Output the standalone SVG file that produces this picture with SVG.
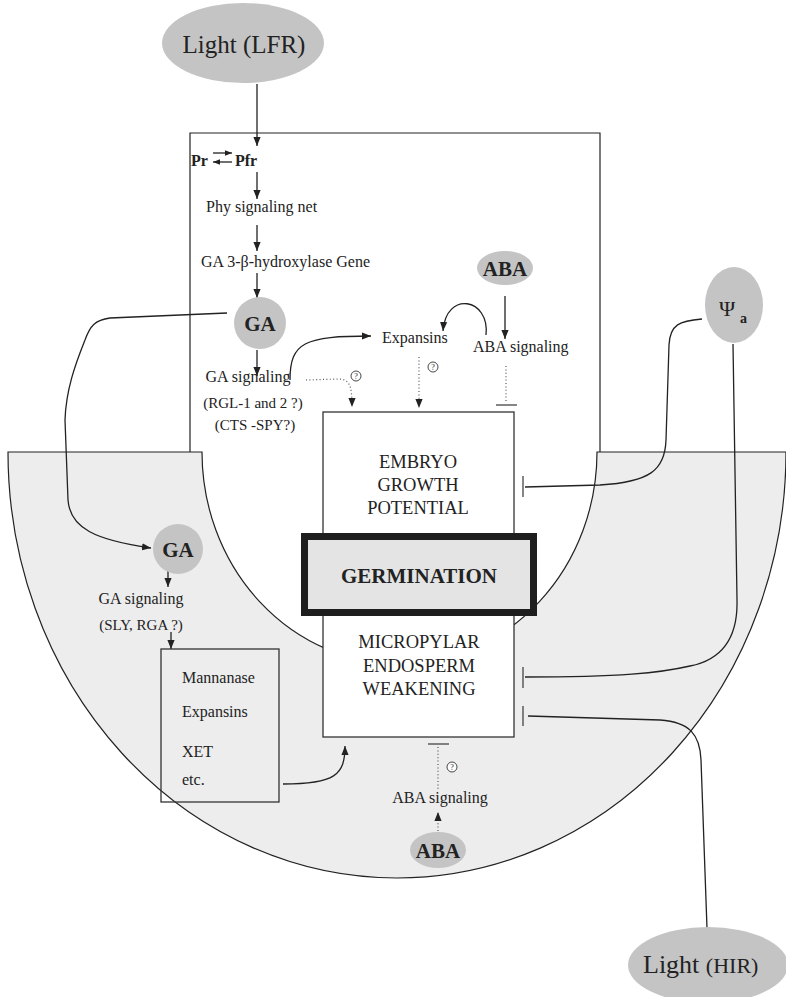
<svg xmlns="http://www.w3.org/2000/svg" width="786" height="997" viewBox="0 0 786 997">
<defs>
<style>
.t{font-family:"Liberation Serif","Times New Roman",serif;font-size:16px;fill:#222}
.b{font-weight:bold}
.m{text-anchor:middle}
.ln{fill:none;stroke:#222;stroke-width:1.3}
.dt{fill:none;stroke:#555;stroke-width:1.2;stroke-dasharray:1 2.4}
.bar{fill:none;stroke:#444;stroke-width:1.3}
.nd{fill:#c4c4c4}
.q{fill:#fff;stroke:#333;stroke-width:0.9}
.qt{font-family:"Liberation Serif",serif;font-size:8px;fill:#222;text-anchor:middle}
</style>
<marker id="ah" viewBox="0 0 10 10" refX="10" refY="5" markerWidth="9" markerHeight="9" orient="auto" markerUnits="userSpaceOnUse"><path d="M0,1 L10,5 L0,9 z" fill="#222"/></marker>
<marker id="ahs" viewBox="0 0 10 10" refX="10" refY="5" markerWidth="8" markerHeight="7" orient="auto" markerUnits="userSpaceOnUse"><path d="M0,1 L10,5 L0,9 z" fill="#222"/></marker>
</defs>
<rect width="786" height="997" fill="#fff"/>

<g id="endosperm">
<path d="M8 452 L202 452 A197.5 212 0 0 0 597 452 L786 452 A389 426 0 0 1 8 452 Z" fill="#ededed" stroke="#222" stroke-width="1.2"/>
</g>
<g id="embryo">
<path d="M190 452 L190 133 L600 133 L600 452" fill="none" stroke="#222" stroke-width="1.2"/>
</g>

<g id="connectors">
<line class="ln" x1="257" y1="84" x2="257" y2="146" marker-end="url(#ah)"/>
<line class="ln" x1="213" y1="153" x2="232" y2="153" marker-end="url(#ahs)"/>
<line class="ln" x1="232" y1="162" x2="213" y2="162" marker-end="url(#ahs)"/>
<line class="ln" x1="257" y1="172" x2="257" y2="199" marker-end="url(#ah)"/>
<line class="ln" x1="257" y1="225" x2="257" y2="251" marker-end="url(#ah)"/>
<line class="ln" x1="257" y1="273" x2="257" y2="298" marker-end="url(#ah)"/>
<line class="ln" x1="257" y1="350" x2="257" y2="376" marker-end="url(#ah)"/>
<path class="ln" d="M227 313 L110 318 C95 320 90 326 85 340 C75 365 66 390 65 420 L68 500 C70 528 95 540 151 548" marker-end="url(#ah)"/>
<line class="ln" x1="168" y1="564" x2="168" y2="587" marker-end="url(#ah)"/>
<line class="ln" x1="171" y1="632" x2="171" y2="649" marker-end="url(#ah)"/>
<path class="ln" d="M283 784 C335 784 345 775 345 746" marker-end="url(#ah)"/>
<path class="ln" d="M290 380 C290 342 305 336 371 336" marker-end="url(#ah)"/>
<line class="ln" x1="505" y1="296" x2="505" y2="339" marker-end="url(#ah)"/>
<path class="ln" d="M486 335 C490 298 446 290 443 331" marker-end="url(#ah)"/>
<path class="dt" d="M306 380 L338 379 C350 379 352 386 352 407" marker-end="url(#ah)"/>
<line class="dt" x1="419" y1="357" x2="419" y2="408" marker-end="url(#ah)"/>
<line class="dt" x1="506" y1="366" x2="506" y2="403"/>
<line class="bar" x1="496" y1="405" x2="517" y2="405"/>
<path class="ln" d="M702 319 C680 321 670 324 669 345 L666 440 C665 470 650 482 600 485 L525 487"/>
<line class="bar" x1="523" y1="476" x2="523" y2="497"/>
<path class="ln" d="M733 344 L737 600 C738 640 720 660 690 666 C660 673 620 677 525 677"/>
<line class="bar" x1="523" y1="667" x2="523" y2="688"/>
<path class="ln" d="M707 928 L701 760 C700 735 690 722 660 720 L528 716"/>
<line class="bar" x1="523" y1="706" x2="523" y2="726"/>
<line class="bar" x1="428" y1="744" x2="449" y2="744"/>
<line class="dt" x1="438" y1="747" x2="438" y2="790"/>
<line class="dt" x1="438" y1="831" x2="438" y2="812" marker-end="url(#ah)"/>
<circle class="q" cx="356" cy="376" r="5"/><text class="qt" x="356" y="379">?</text>
<circle class="q" cx="433" cy="367" r="5"/><text class="qt" x="433" y="370">?</text>
<circle class="q" cx="452" cy="767" r="5"/><text class="qt" x="452" y="770">?</text>
</g>

<g id="light-lfr">
<ellipse class="nd" cx="243" cy="43" rx="81" ry="40"/>
<text class="t m" x="244" y="53" style="font-size:25px">Light (LFR)</text>
</g>
<g id="pr-pfr">
<text class="t b" x="191" y="166">Pr</text>
<text class="t b" x="235" y="166">Pfr</text>
</g>
<g id="phy"><text class="t" x="206" y="212">Phy signaling net</text></g>
<g id="ga-gene"><text class="t" x="201" y="267">GA 3-β-hydroxylase Gene</text></g>
<g id="ga-top">
<circle class="nd" cx="260" cy="323" r="26"/>
<text class="t b m" x="260" y="331" style="font-size:21px">GA</text>
</g>
<g id="ga-signaling-top">
<text class="t m" x="248" y="382">GA signaling</text>
<text class="t m" x="253" y="408" style="font-size:15px">(RGL-1 and 2 ?)</text>
<text class="t m" x="255" y="430" style="font-size:15px">(CTS -SPY?)</text>
</g>
<g id="expansins"><text class="t" x="382" y="343">Expansins</text></g>
<g id="aba-top">
<ellipse class="nd" cx="505" cy="268" rx="28" ry="17"/>
<text class="t b m" x="505" y="276" style="font-size:21px">ABA</text>
</g>
<g id="aba-signaling-top"><text class="t" x="473" y="352">ABA signaling</text></g>
<g id="psi">
<ellipse class="nd" cx="734" cy="305" rx="29" ry="38"/>
<text class="t" x="719" y="316" style="font-size:22px">Ψ</text>
<text class="t b" x="740" y="323" style="font-size:14px">a</text>
</g>

<g id="growth-box">
<rect x="323" y="412" width="191" height="325" fill="#fff" stroke="#333" stroke-width="1.3"/>
<text class="t m" x="418" y="468" style="font-size:18.5px">EMBRYO</text>
<text class="t m" x="418" y="491" style="font-size:18.5px">GROWTH</text>
<text class="t m" x="418" y="514" style="font-size:18.5px">POTENTIAL</text>
</g>
<g id="endosperm-box">
<text class="t m" x="419" y="648" style="font-size:18.5px">MICROPYLAR</text>
<text class="t m" x="419" y="672" style="font-size:18.5px">ENDOSPERM</text>
<text class="t m" x="419" y="695" style="font-size:18.5px">WEAKENING</text>
</g>
<g id="germination">
<rect x="304.5" y="536.5" width="229" height="76" fill="#e4e4e4" stroke="#1e1e1e" stroke-width="7"/>
<text class="t b m" x="419" y="583" style="font-size:21px">GERMINATION</text>
</g>

<g id="ga-lower">
<circle class="nd" cx="178" cy="549" r="25"/>
<text class="t b m" x="178" y="557" style="font-size:21px">GA</text>
</g>
<g id="ga-signaling-lower">
<text class="t m" x="141" y="604">GA signaling</text>
<text class="t m" x="141" y="630" style="font-size:15px">(SLY, RGA ?)</text>
</g>
<g id="enzymes">
<rect x="161" y="649" width="118" height="153" fill="none" stroke="#333" stroke-width="1.3"/>
<text class="t" x="182" y="683">Mannanase</text>
<text class="t" x="182" y="717">Expansins</text>
<text class="t" x="182" y="757">XET</text>
<text class="t" x="182" y="785">etc.</text>
</g>
<g id="aba-signaling-bottom"><text class="t m" x="440" y="803">ABA signaling</text></g>
<g id="aba-bottom">
<ellipse class="nd" cx="438" cy="850" rx="28" ry="18"/>
<text class="t b m" x="438" y="858" style="font-size:21px">ABA</text>
</g>
<g id="light-hir">
<ellipse class="nd" cx="708" cy="965" rx="80" ry="38"/>
<text class="t" x="643" y="973"><tspan style="font-size:26px">Light </tspan><tspan style="font-size:22px">(HIR)</tspan></text>
</g>
</svg>
